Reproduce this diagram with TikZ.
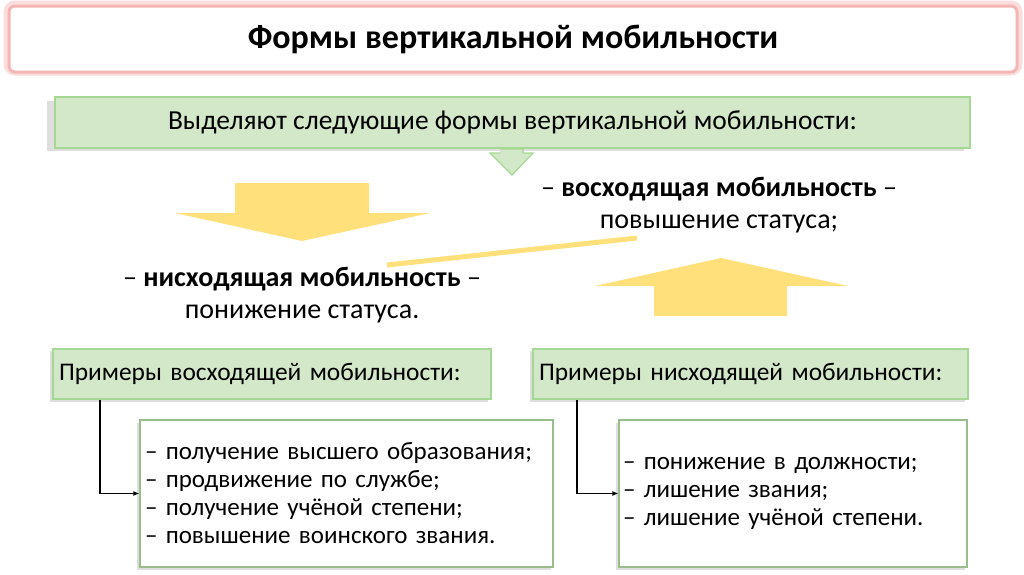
\documentclass[tikz,border=0pt]{standalone}
\usepackage{fontspec}
\setmainfont{Carlito}
\usetikzlibrary{arrows.meta}
\definecolor{gfill}{HTML}{D3E7C9}
\definecolor{gline}{HTML}{A5D892}
\definecolor{gshadow}{HTML}{DEDEDE}
\definecolor{yel}{HTML}{FFE07A}
\definecolor{pinkline}{HTML}{F5B5B5}
\tikzset{
  titlebox/.style={draw=pinkline, line width=3pt, fill=white, rounded corners=6pt,
    minimum width=1008pt, minimum height=66pt, font=\fontsize{34}{40}\selectfont\bfseries},
  greenbox/.style={draw=gline, line width=1.5pt, fill=gfill},
  listbox/.style={draw=gline!70!gray, line width=1.2pt, fill=white, align=left,
    minimum height=147pt, font=\fontsize{25}{28}\selectfont},
  plain/.style={align=center, font=\fontsize{28}{31.5}\selectfont},
  conn/.style={line width=1.8pt, -{Latex[length=6pt,width=5pt]}},
  yarrow/.style={fill=yel, draw=none}
}
\begin{document}
\begin{tikzpicture}[x=1pt,y=-1pt]
\path[use as bounding box] (0,0) rectangle (1024,574);
% title
\draw[pinkline!45, line width=7pt, rounded corners=8pt] (7,4) rectangle (1019,72);
\node[titlebox] (title) at (513,39) {Формы вертикальной мобильности};
% intro green box with shadow
\fill[gshadow] (47,101) rectangle (964,151);
\node[greenbox, minimum width=915pt, minimum height=51pt, font=\fontsize{27.5}{32}\selectfont] (intro) at (512.5,122.5)
  {Выделяют следующие формы вертикальной мобильности:};
% small green arrow
\draw[draw=gline, fill=gfill, line width=1.2pt] (500,149) -- (523,149) -- (523,153) -- (533,153) -- (512,175) -- (490,153) -- (500,153);
% yellow arrows
\fill[yarrow] (235,183) -- (369,183) -- (369,213) -- (430,213) -- (302,241) -- (175,213) -- (235,213) -- cycle;
\fill[yarrow] (654,316) -- (787,316) -- (787,286) -- (848,286) -- (721,258) -- (595,286) -- (654,286) -- cycle;
\draw[yel, line width=5pt] (387,265) -- (637,238);
% mobility texts
\node[plain] (uptext) at (719,205) {– \textbf{восходящая мобильность} –\\повышение статуса;};
\node[plain] (downtext) at (302,295) {– \textbf{нисходящая мобильность} –\\понижение статуса.};
% example headers
\fill[gshadow] (50,351) rectangle (488,402);
\node[greenbox, minimum width=438pt, minimum height=50pt, text width=426pt, align=left, inner xsep=6pt,
  font=\fontsize{25.4}{30}\selectfont] (exup) at (272,374) {Примеры восходящей мобильности:};
\fill[gshadow] (530,351) rectangle (965,402);
\node[greenbox, minimum width=435pt, minimum height=50pt, text width=423pt, align=left, inner xsep=6pt,
  font=\fontsize{25.4}{30}\selectfont] (exdown) at (750.5,374) {Примеры нисходящей мобильности:};
% lists
\fill[gshadow] (137,423) rectangle (551,570);
\node[listbox, minimum width=413pt, text width=403pt, inner xsep=5pt] (listup) at (346.5,493.5)
  {– получение высшего образования;\\– продвижение по службе;\\– получение учёной степени;\\– повышение воинского звания.};
\fill[gshadow] (616,423) rectangle (965,570);
\node[listbox, minimum width=348pt, text width=340pt, inner xsep=4pt] (listdown) at (793,493.5)
  {– понижение в должности;\\– лишение звания;\\– лишение учёной степени.};
% connectors
\draw[conn] ([xshift=48pt]exup.south west) |- (listup.west);
\draw[conn] ([xshift=45pt]exdown.south west) |- (listdown.west);
\end{tikzpicture}
\end{document}
